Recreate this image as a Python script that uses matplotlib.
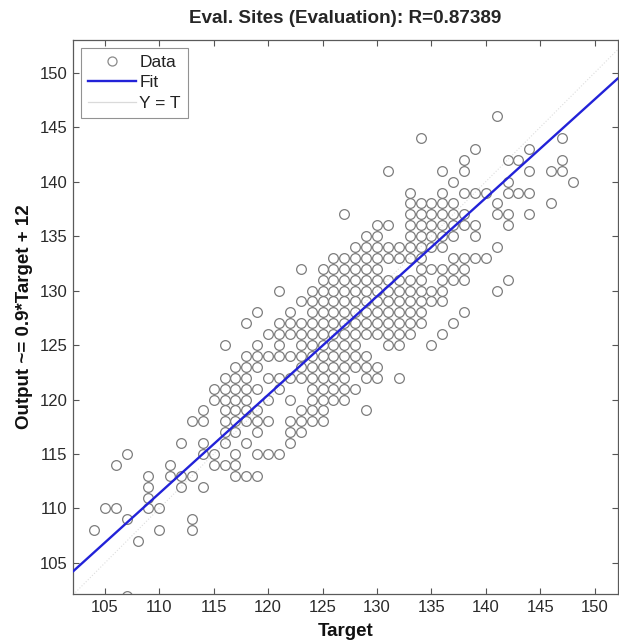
import numpy as np
import matplotlib
matplotlib.use("Agg")
import matplotlib.pyplot as plt
from matplotlib.lines import Line2D

# ---------------- data ----------------
target_cols = [104, 105, 106, 107, 108, 109, 110, 111, 112, 113, 114, 115,
               116, 117, 118, 119, 120, 121, 122, 123, 124, 125, 126, 127,
               128, 129, 130, 131, 132, 133, 134, 135, 136, 137, 138, 139,
               140, 141, 142, 143, 144, 146, 147, 148]
outputs_per_target = [
    [108],
    [110],
    [110, 114],
    [102, 109, 115],
    [107],
    [110, 111, 112, 113],
    [108, 110],
    [113, 114],
    [112, 113, 116],
    [108, 109, 113, 118],
    [112, 115, 116, 118, 119],
    [114, 115, 120, 121],
    [114, 116, 117, 118, 119, 120, 121, 122, 125],
    [113, 114, 115, 117, 118, 119, 120, 121, 122, 123],
    [113, 116, 118, 119, 120, 121, 122, 123, 124, 127],
    [113, 115, 117, 118, 119, 121, 123, 124, 125, 128],
    [115, 118, 120, 122, 124, 126],
    [115, 121, 122, 124, 125, 126, 127, 130],
    [116, 117, 118, 120, 122, 124, 126, 127, 128],
    [117, 118, 119, 122, 123, 124, 125, 126, 127, 129, 132],
    [118, 119, 120, 121, 122, 123, 124, 125, 126, 127, 128, 129, 130],
    [118, 119, 120, 121, 122, 123, 124, 125, 126, 127, 128, 129, 130, 131, 132],
    [120, 121, 122, 123, 124, 125, 126, 127, 128, 129, 130, 131, 132, 133],
    [120, 121, 122, 123, 124, 125, 126, 127, 128, 129, 130, 131, 132, 133, 137],
    [121, 123, 124, 125, 126, 127, 128, 129, 130, 131, 132, 133, 134],
    [119, 122, 123, 124, 126, 127, 128, 129, 130, 131, 132, 133, 134, 135],
    [122, 123, 126, 127, 128, 129, 130, 131, 132, 133, 134, 135, 136],
    [125, 126, 127, 128, 129, 130, 131, 133, 134, 136, 141],
    [122, 125, 126, 127, 128, 129, 130, 131, 133, 134],
    [126, 127, 128, 129, 130, 131, 133, 134, 135, 136, 137, 138, 139],
    [127, 128, 129, 130, 131, 132, 133, 134, 135, 136, 137, 138, 144],
    [125, 129, 130, 132, 134, 135, 136, 137, 138],
    [126, 129, 130, 131, 132, 134, 135, 136, 137, 138, 139, 141],
    [127, 131, 132, 133, 135, 136, 137, 138, 140],
    [128, 131, 132, 133, 136, 137, 139, 141, 142],
    [133, 135, 136, 139, 143],
    [133, 139],
    [130, 134, 137, 138, 146],
    [131, 136, 137, 139, 140, 142],
    [139, 142],
    [137, 139, 141, 143],
    [138, 141],
    [141, 142, 144],
    [140],
]
fit_slope = 0.904
fit_intercept = 11.95
x_ticks = [105, 110, 115, 120, 125, 130, 135, 140, 145, 150]
y_ticks = [105, 110, 115, 120, 125, 130, 135, 140, 145, 150]
title_text = "Eval. Sites (Evaluation): R=0.87389"
x_label = "Target"
y_label = "Output ~= 0.9*Target + 12"

targets = np.array([t for t, outs in zip(target_cols, outputs_per_target) for _ in outs])
outputs = np.array([o for outs in outputs_per_target for o in outs])

# ---------------- figure ----------------
plt.rcParams['font.family'] = ['Liberation Sans', 'DejaVu Sans']
fig = plt.figure(figsize=(6.19, 6.41), dpi=100)
ax = fig.add_axes([0.1184, 0.0733, 0.8792, 0.8643])

xlim = (102.1, 152.1)
ylim = (102.15, 153.0)

ax.plot(targets, outputs, linestyle='none', marker='o', markersize=7,
        markerfacecolor='none', markeredgecolor='#7d7d7d', markeredgewidth=0.9,
        zorder=2)
xs = np.array(xlim)
ax.plot(xs, fit_slope * xs + fit_intercept, color='#2222d8', lw=1.7, zorder=3)
ax.plot(xs, xs, color='#dedede', lw=0.8, linestyle=':', zorder=1)

ax.set_xlim(xlim)
ax.set_ylim(ylim)
ax.set_xticks(x_ticks)
ax.set_yticks(y_ticks)
ax.tick_params(direction='in', length=4, width=0.8, colors='#555555',
               labelcolor='#2a2a2a', labelsize=12, top=True, right=True, pad=4)
for s in ax.spines.values():
    s.set_color('#5a5a5a')
    s.set_linewidth(0.9)

ax.set_title(title_text, fontsize=13.6, fontweight='bold', color='#262626', pad=12)
ax.set_xlabel(x_label, fontsize=13.5, fontweight='bold', color='#111111', labelpad=6)
ax.set_ylabel(y_label, fontsize=13.5, fontweight='bold', color='#111111', labelpad=5)

handles = [
    Line2D([], [], linestyle='none', marker='o', markersize=6.5, markerfacecolor='none',
           markeredgecolor='#8a8a8a', markeredgewidth=0.9),
    Line2D([], [], color='#2222d8', lw=1.7),
    Line2D([], [], color='#dadada', lw=0.9),
]
leg = ax.legend(handles, ['Data', 'Fit', 'Y = T'], loc='upper left', fontsize=12.5,
                frameon=True, fancybox=False, edgecolor='#777777', handlelength=2.75,
                borderaxespad=0.45, labelspacing=0.3, handletextpad=0.2,
                borderpad=0.4)
leg.get_frame().set_linewidth(0.8)
for t in leg.get_texts():
    t.set_color('#222222')

fig.savefig("out.png", dpi=100)
